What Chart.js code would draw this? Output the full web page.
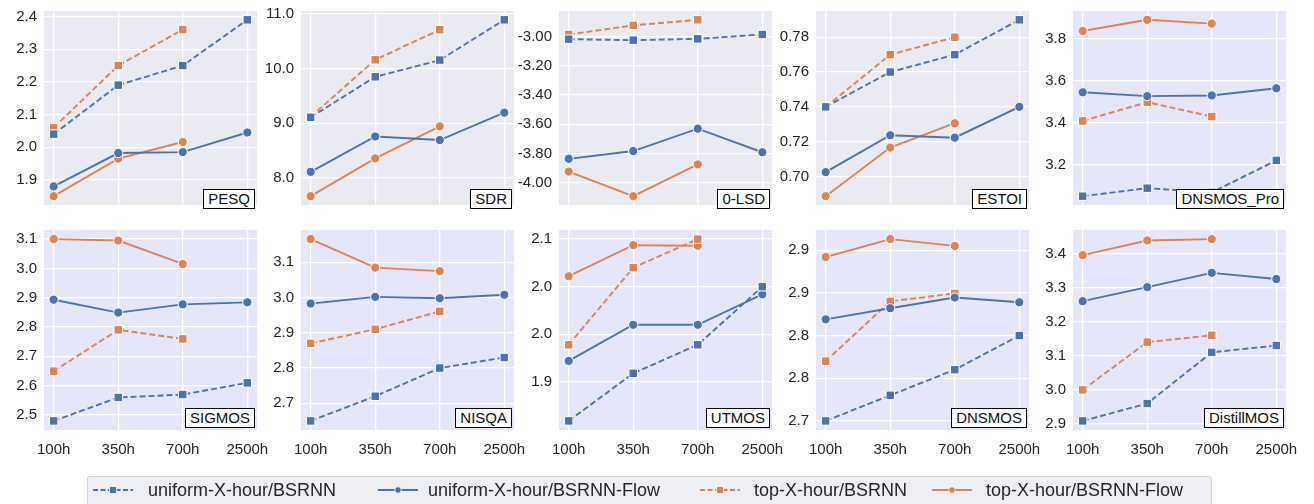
<!DOCTYPE html>
<html>
<head>
<meta charset="utf-8">
<script src="https://cdn.jsdelivr.net/npm/chart.js@4.4.1/dist/chart.umd.min.js"></script>
<style>
  body { margin: 0; background: #fff; width: 1314px; height: 504px; overflow: hidden; position: relative;
         font-family: "Liberation Sans", Arial, sans-serif; color: #262626; }
  canvas { position: absolute; }
  .tag { position: absolute; background: #fff; border: 1px solid #000; font-size: 15px; line-height: 18px;
         padding: 0 4px; color: #111; white-space: nowrap; }
  #legend { position: absolute; left: 87px; top: 476px; width: 1125px; height: 40px; background: #eeeef5;
            border: 1px solid #d4d4d8; border-radius: 3px; box-sizing: border-box; }
  .handle { position: absolute; top: 483px; }
  .ltext { position: absolute; top: 479px; font-size: 18px; line-height: 22px; color: #262626; white-space: nowrap; }
</style>
</head>
<body>
<div id="legend"></div>
<script>
const hours = ['100h', '350h', '700h', '2500h'];
const seriesNames = ['uniform-X-hour/BSRNN', 'uniform-X-hour/BSRNN-Flow', 'top-X-hour/BSRNN', 'top-X-hour/BSRNN-Flow'];
const seriesColors = ['#4C72B0', '#4C72B0', '#DD8452', '#DD8452'];

// rows: uniform BSRNN, uniform Flow, top BSRNN, top Flow
const pesqValues = [
    [2.04, 2.19, 2.25, 2.39],
    [1.88, 1.982, 1.985, 2.045],
    [2.06, 2.25, 2.36, null],
    [1.85, 1.965, 2.016, null]
];
const sdrValues = [
    [9.11, 9.85, 10.155, 10.89],
    [8.115, 8.76, 8.695, 9.195],
    [9.12, 10.16, 10.71, null],
    [7.67, 8.36, 8.945, null]
];
const lsdValues = [
    [-3.019, -3.026, -3.017, -2.987],
    [-3.836, -3.783, -3.63, -3.791],
    [-2.987, -2.925, -2.887, null],
    [-3.923, -4.091, -3.874, null]
];
const estoiValues = [
    [0.74, 0.76, 0.77, 0.79],
    [0.7025, 0.7237, 0.7223, 0.74],
    [0.74, 0.77, 0.78, null],
    [0.6887, 0.7166, 0.7306, null]
];
const dnsmosProValues = [
    [3.052, 3.09, 3.07, 3.222],
    [3.545, 3.527, 3.53, 3.564],
    [3.409, 3.498, 3.43, null],
    [3.836, 3.889, 3.871, null]
];
const sigmosValues = [
    [2.479, 2.559, 2.569, 2.609],
    [2.893, 2.849, 2.877, 2.884],
    [2.649, 2.79, 2.759, null],
    [3.1, 3.095, 3.015, null]
];
const nisqaValues = [
    [2.65, 2.72, 2.8, 2.83],
    [2.983, 3.002, 2.998, 3.008],
    [2.87, 2.91, 2.961, null],
    [3.166, 3.085, 3.075, null]
];
const utmosValues = [
    [1.859, 1.909, 1.939, 2.0],
    [1.922, 1.96, 1.96, 1.992],
    [1.939, 2.02, 2.05, null],
    [2.011, 2.0436, 2.043, null]
];
const dnsmosValues = [
    [2.70, 2.73, 2.76, 2.80],
    [2.819, 2.832, 2.8445, 2.839],
    [2.77, 2.84, 2.8494, null],
    [2.892, 2.913, 2.905, null]
];
const distillValues = [
    [2.909, 2.96, 3.11, 3.13],
    [3.26, 3.301, 3.343, 3.325],
    [3.0, 3.14, 3.16, null],
    [3.395, 3.438, 3.442, null]
];

const pesqTicks = [1.9, 2.0, 2.1, 2.2, 2.3, 2.4];
const pesqLabels = ['1.9', '2.0', '2.1', '2.2', '2.3', '2.4'];
const sdrTicks = [8, 9, 10, 11];
const sdrLabels = ['8.0', '9.0', '10.0', '11.0'];
const lsdTicks = [-4.0, -3.8, -3.6, -3.4, -3.2, -3.0];
const lsdLabels = ['-4.00', '-3.80', '-3.60', '-3.40', '-3.20', '-3.00'];
const estoiTicks = [0.70, 0.72, 0.74, 0.76, 0.78];
const estoiLabels = ['0.70', '0.72', '0.74', '0.76', '0.78'];
const dnsmosProTicks = [3.2, 3.4, 3.6, 3.8];
const dnsmosProLabels = ['3.2', '3.4', '3.6', '3.8'];
const sigmosTicks = [2.5, 2.6, 2.7, 2.8, 2.9, 3.0, 3.1];
const sigmosLabels = ['2.5', '2.6', '2.7', '2.8', '2.9', '3.0', '3.1'];
const nisqaTicks = [2.7, 2.8, 2.9, 3.0, 3.1];
const nisqaLabels = ['2.7', '2.8', '2.9', '3.0', '3.1'];
const utmosTicks = [1.90, 1.95, 2.00, 2.05];
const utmosLabels = ['1.9', '2.0', '2.0', '2.1'];
const dnsmosTicks = [2.70, 2.75, 2.80, 2.85, 2.90];
const dnsmosLabels = ['2.7', '2.8', '2.8', '2.9', '2.9'];
const distillTicks = [2.9, 3.0, 3.1, 3.2, 3.3, 3.4];
const distillLabels = ['2.9', '3.0', '3.1', '3.2', '3.3', '3.4'];

const fontFamily = '"Liberation Sans", Arial, sans-serif';
const plotLefts = [44, 301, 559, 816, 1073];
const plotWidth = 213;
const plotHeight = 206;
const rowTops = [5, 224];
const axisW = 44;

const panelBackground = {
    id: 'panelBackground',
    beforeDraw(chart, args, opts) {
        const a = chart.chartArea;
        chart.ctx.save();
        chart.ctx.fillStyle = opts.color;
        chart.ctx.fillRect(a.left, a.top, a.right - a.left, a.bottom - a.top);
        chart.ctx.restore();
    }
};

function makePanel(col, row, name, values, ticks, labels, bg) {
    const showX = row === 1;
    const canvas = document.createElement('canvas');
    const w = axisW + plotWidth + 24;
    const h = 10 + plotHeight + (showX ? 34 : 10);
    canvas.width = w;
    canvas.height = h;
    canvas.style.left = (plotLefts[col] - axisW) + 'px';
    canvas.style.top = (rowTops[row] - 10) + 'px';
    canvas.style.width = w + 'px';
    canvas.style.height = h + 'px';
    document.body.appendChild(canvas);

    const all = values.flat().filter(v => v !== null);
    const lo = Math.min(...all), hi = Math.max(...all);
    const pad = (hi - lo) * 0.05;

    new Chart(canvas, {
        type: 'line',
        data: {
            datasets: values.map((vals, s) => ({
                label: seriesNames[s],
                data: vals.map((v, i) => ({ x: i, y: v })).filter(p => p.y !== null),
                borderColor: seriesColors[s],
                backgroundColor: seriesColors[s],
                pointBackgroundColor: seriesColors[s],
                pointBorderColor: '#ffffff',
                pointBorderWidth: 1,
                borderWidth: 1.9,
                borderDash: s % 2 === 0 ? [6, 3] : [],
                pointStyle: s % 2 === 0 ? 'rect' : 'circle',
                pointRadius: s % 2 === 0 ? 6 : 4.6,
                tension: 0,
                clip: false
            }))
        },
        options: {
            responsive: false,
            animation: false,
            events: [],
            layout: { padding: { top: 10, bottom: showX ? 0 : 10, left: 0, right: 24 } },
            plugins: {
                legend: { display: false },
                tooltip: { enabled: false },
                panelBackground: { color: bg }
            },
            scales: {
                x: {
                    type: 'linear',
                    min: -0.15,
                    max: 3.15,
                    afterBuildTicks: scale => { scale.ticks = hours.map((hr, i) => ({ value: i })); },
                    afterFit: scale => { scale.height = showX ? 34 : 0; },
                    ticks: {
                        display: showX,
                        callback: v => hours[v],
                        font: { family: fontFamily, size: 15 },
                        color: '#262626',
                        padding: 11,
                        maxRotation: 0
                    },
                    grid: { color: '#ffffff', lineWidth: 1.3, drawTicks: false },
                    border: { display: false }
                },
                y: {
                    min: lo - pad,
                    max: hi + pad,
                    afterBuildTicks: scale => { scale.ticks = ticks.map(v => ({ value: v })); },
                    afterFit: scale => { scale.width = axisW; },
                    ticks: {
                        callback: (v, i) => labels[i],
                        font: { family: fontFamily, size: 15 },
                        color: '#262626',
                        padding: 7
                    },
                    grid: { color: '#ffffff', lineWidth: 1.3, drawTicks: false },
                    border: { display: false }
                }
            }
        },
        plugins: [panelBackground]
    });

    let tag = document.createElement('div');
    tag.className = 'tag';
    tag.textContent = name;
    tag.style.right = (1314 - (plotLefts[col] + plotWidth - 2)) + 'px';
    tag.style.bottom = (504 - (rowTops[row] + plotHeight - 2)) + 'px';
    document.body.appendChild(tag);
}

makePanel(0, 0, 'PESQ', pesqValues, pesqTicks, pesqLabels, '#EAEAF2');
makePanel(1, 0, 'SDR', sdrValues, sdrTicks, sdrLabels, '#EAEAF2');
makePanel(2, 0, '0-LSD', lsdValues, lsdTicks, lsdLabels, '#EAEAF2');
makePanel(3, 0, 'ESTOI', estoiValues, estoiTicks, estoiLabels, '#EAEAF2');
makePanel(4, 0, 'DNSMOS_Pro', dnsmosProValues, dnsmosProTicks, dnsmosProLabels, '#E6E6FA');
makePanel(0, 1, 'SIGMOS', sigmosValues, sigmosTicks, sigmosLabels, '#E6E6FA');
makePanel(1, 1, 'NISQA', nisqaValues, nisqaTicks, nisqaLabels, '#E6E6FA');
makePanel(2, 1, 'UTMOS', utmosValues, utmosTicks, utmosLabels, '#E6E6FA');
makePanel(3, 1, 'DNSMOS', dnsmosValues, dnsmosTicks, dnsmosLabels, '#E6E6FA');
makePanel(4, 1, 'DistillMOS', distillValues, distillTicks, distillLabels, '#E6E6FA');

// shared legend below the grid
const handleX = [93, 378, 700, 932];
const textX = [148, 428, 754, 986];
seriesNames.forEach((name, s) => {
    const dashed = s % 2 === 0;
    const c = seriesColors[s];
    const marker = dashed
        ? `<rect x="16.5" y="3.5" width="7" height="7" fill="${c}" stroke="#fff" stroke-width="0.8"/>`
        : `<circle cx="20" cy="7" r="3.3" fill="${c}" stroke="#fff" stroke-width="0.8"/>`;
    let handle = document.createElement('div');
    handle.className = 'handle';
    handle.style.left = handleX[s] + 'px';
    handle.innerHTML = `<svg width="40" height="14"><line x1="0" y1="7" x2="40" y2="7" stroke="${c}" stroke-width="1.8"${dashed ? ' stroke-dasharray="5 2.5"' : ''}/>${marker}</svg>`;
    document.body.appendChild(handle);
    let label = document.createElement('div');
    label.className = 'ltext';
    label.style.left = textX[s] + 'px';
    label.textContent = name;
    document.body.appendChild(label);
});
</script>
</body>
</html>
